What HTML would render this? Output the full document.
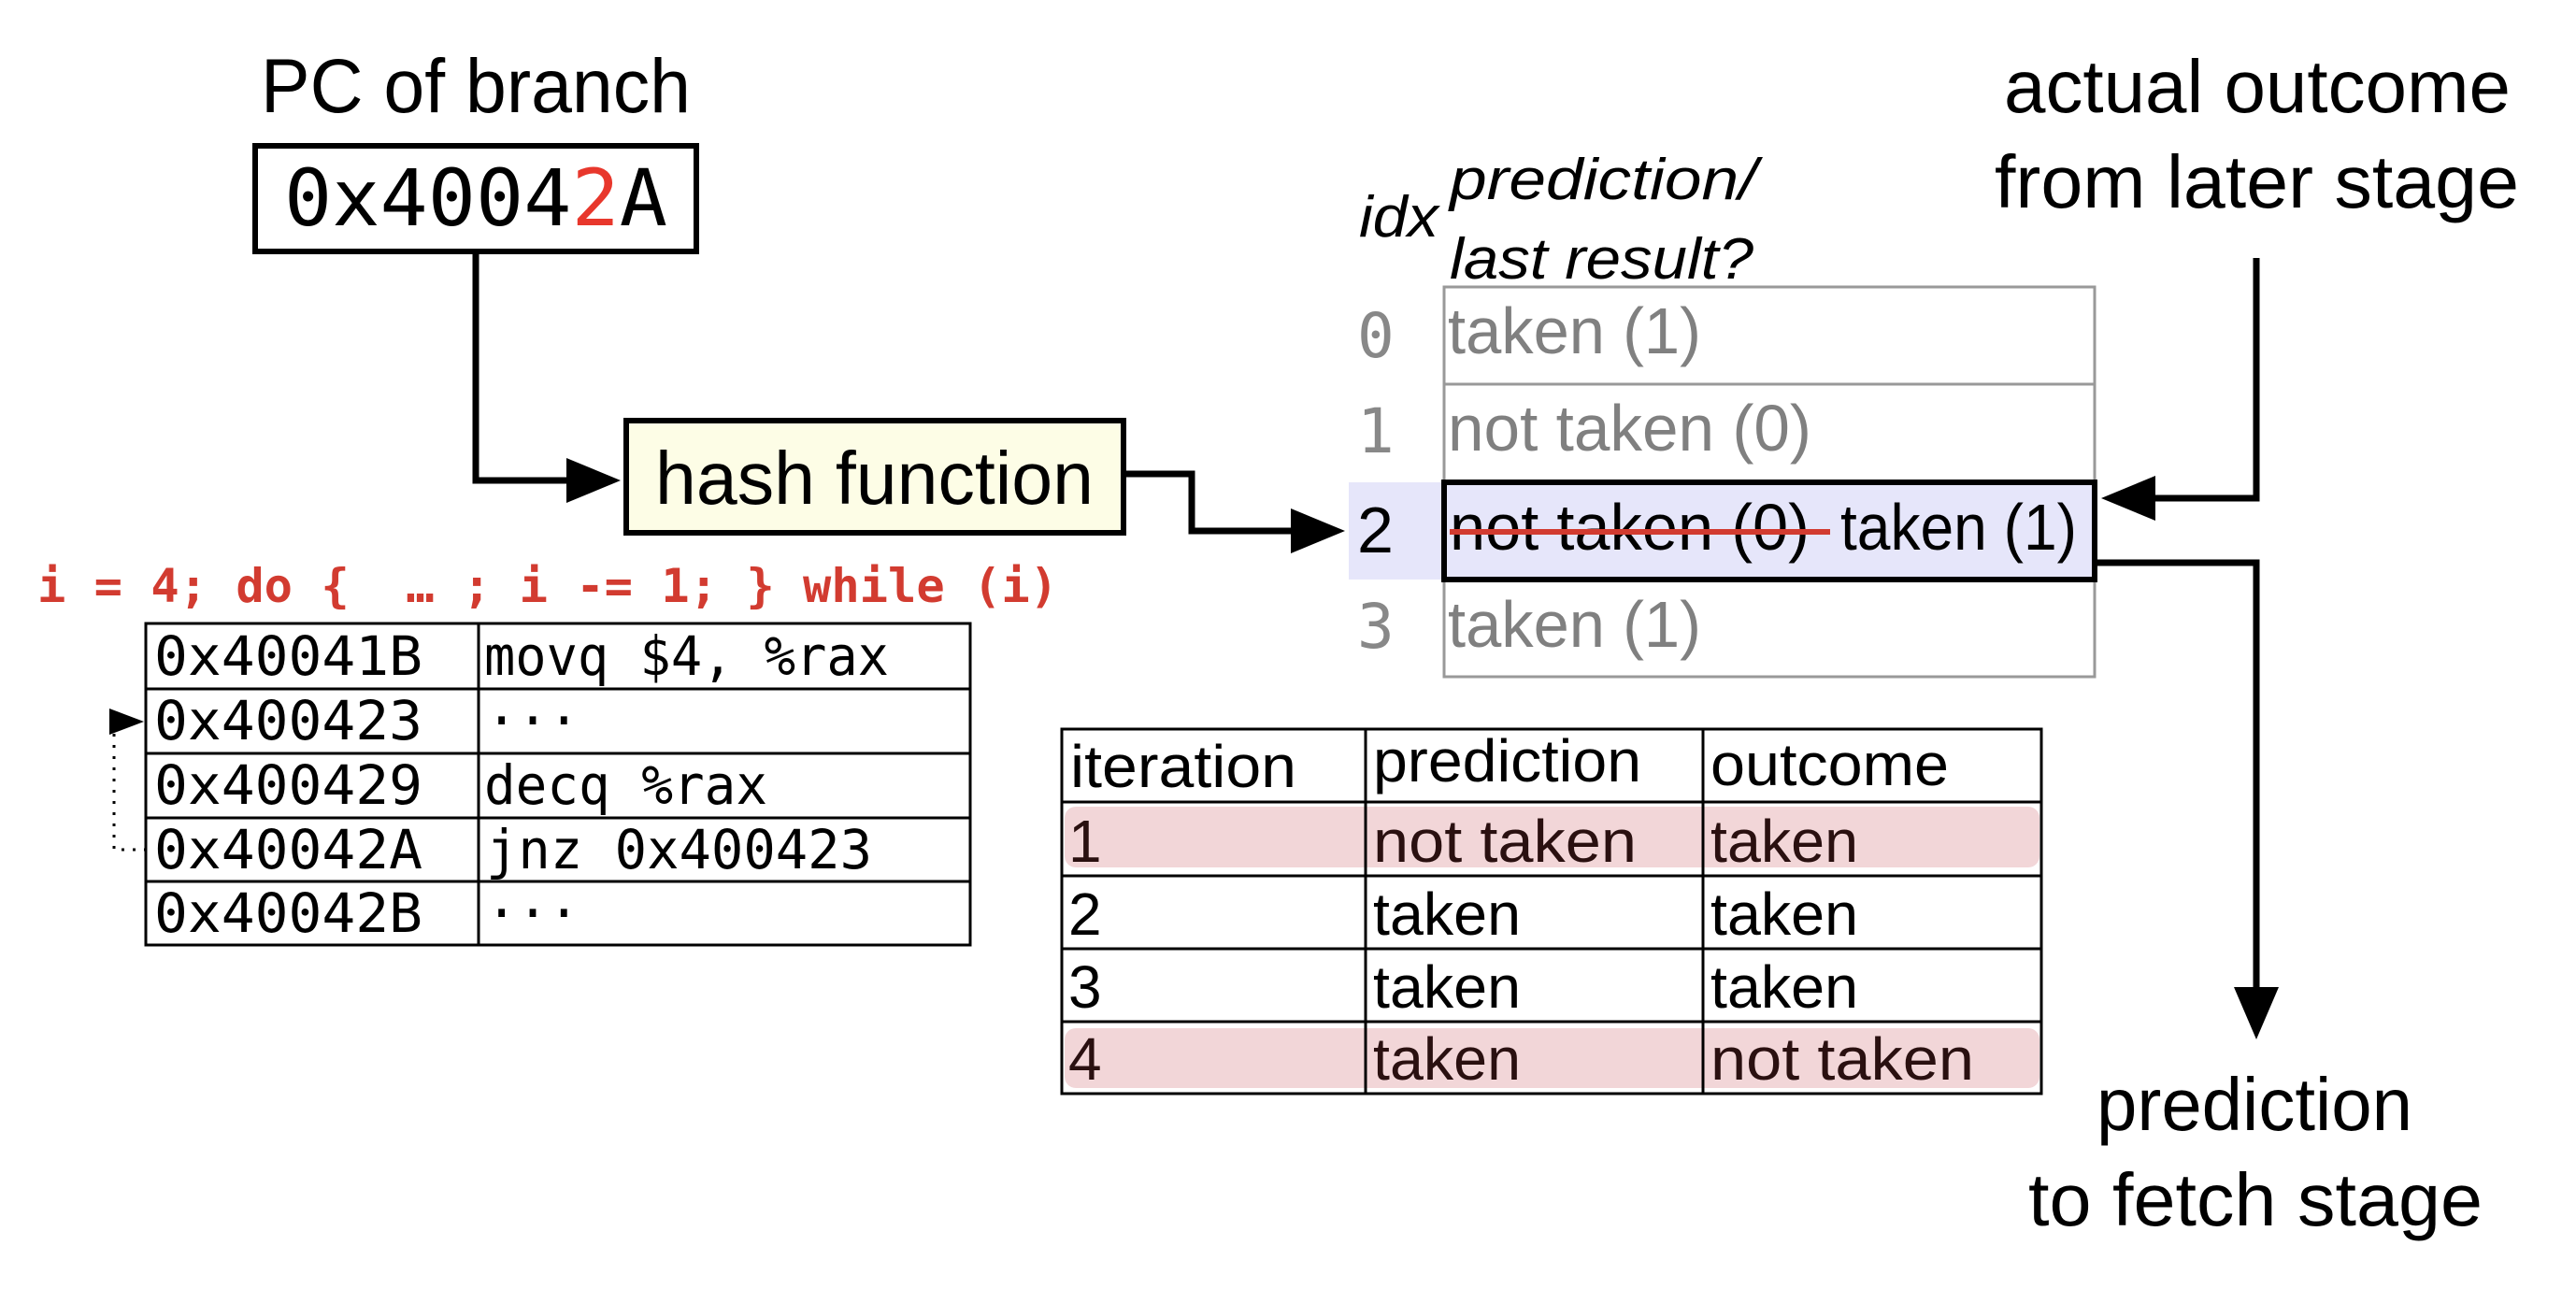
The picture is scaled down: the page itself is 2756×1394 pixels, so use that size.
<!DOCTYPE html>
<html><head><meta charset="utf-8"><style>html,body{margin:0;padding:0;background:#fff}svg{display:block}</style></head>
<body>
<svg width="2756" height="1394" viewBox="0 0 2756 1394" xmlns="http://www.w3.org/2000/svg">
<g font-family="'Liberation Sans', 'DejaVu Sans', sans-serif">
<!-- PC of branch -->
<text x="279" y="120" font-size="82" textLength="460" lengthAdjust="spacingAndGlyphs">PC of branch</text>
<rect x="273" y="156" width="472" height="113" fill="#fff" stroke="#000" stroke-width="6"/>
<text x="304" y="241" font-family="'DejaVu Sans Mono', 'Liberation Mono', monospace" font-size="84" textLength="410" lengthAdjust="spacingAndGlyphs">0x4004<tspan fill="#e8372c">2</tspan>A</text>
<polyline points="509,272 509,514 610,514" fill="none" stroke="#000" stroke-width="7"/>
<polygon points="664,514 606,490 606,538" fill="#000"/>
<rect x="670" y="450" width="532" height="120" fill="#fdfde6" stroke="#000" stroke-width="6"/>
<text x="701" y="539" font-size="80" textLength="469" lengthAdjust="spacingAndGlyphs">hash function</text>
<polyline points="1205,507 1275,507 1275,568 1385,568" fill="none" stroke="#000" stroke-width="7"/>
<polygon points="1439,568 1381,544 1381,592" fill="#000"/>
<text x="40" y="644" font-family="'DejaVu Sans Mono', 'Liberation Mono', monospace" font-weight="bold" font-size="50" fill="#d23b30" xml:space="preserve" textLength="1092" lengthAdjust="spacingAndGlyphs">i = 4; do {  … ; i -= 1; } while (i)</text>
<!-- code table -->
<g stroke="#000" stroke-width="3" fill="none">
<rect x="156" y="667" width="882" height="344"/>
<line x1="512" y1="667" x2="512" y2="1011"/>
<line x1="156" y1="737" x2="1038" y2="737"/>
<line x1="156" y1="806" x2="1038" y2="806"/>
<line x1="156" y1="875" x2="1038" y2="875"/>
<line x1="156" y1="943" x2="1038" y2="943"/>
</g>
<g font-family="'DejaVu Sans Mono', 'Liberation Mono', monospace" font-size="58">
<text x="165" y="722" textLength="287" lengthAdjust="spacingAndGlyphs">0x40041B</text>
<text x="165" y="791" textLength="287" lengthAdjust="spacingAndGlyphs">0x400423</text>
<text x="165" y="860" textLength="287" lengthAdjust="spacingAndGlyphs">0x400429</text>
<text x="165" y="929" textLength="287" lengthAdjust="spacingAndGlyphs">0x40042A</text>
<text x="165" y="997" textLength="287" lengthAdjust="spacingAndGlyphs">0x40042B</text>
<text x="518" y="722" textLength="433" lengthAdjust="spacingAndGlyphs">movq $4, %rax</text>
<text x="520" y="791" textLength="100" lengthAdjust="spacingAndGlyphs">···</text>
<text x="518" y="860" textLength="303" lengthAdjust="spacingAndGlyphs">decq %rax</text>
<text x="520" y="929" textLength="413" lengthAdjust="spacingAndGlyphs">jnz 0x400423</text>
<text x="520" y="997" textLength="100" lengthAdjust="spacingAndGlyphs">···</text>
</g>
<polyline points="122,785 122,909 156,909" fill="none" stroke="#000" stroke-width="3" stroke-dasharray="3,9"/>
<polygon points="154,772 117,758 117,786" fill="#000"/>
<!-- iteration table -->
<rect x="1139" y="863" width="1043" height="65" rx="12" fill="#f2d6d8"/>
<rect x="1139" y="1100" width="1043" height="64" rx="12" fill="#f2d6d8"/>
<g stroke="#000" stroke-width="3" fill="none">
<rect x="1136" y="780" width="1048" height="390"/>
<line x1="1461" y1="780" x2="1461" y2="1170"/>
<line x1="1822" y1="780" x2="1822" y2="1170"/>
<line x1="1136" y1="858" x2="2184" y2="858"/>
<line x1="1136" y1="937" x2="2184" y2="937"/>
<line x1="1136" y1="1015" x2="2184" y2="1015"/>
<line x1="1136" y1="1093" x2="2184" y2="1093"/>
</g>
<g font-size="64">
<text x="1145" y="842" textLength="242" lengthAdjust="spacingAndGlyphs">iteration</text>
<text x="1469" y="836" textLength="287" lengthAdjust="spacingAndGlyphs">prediction</text>
<text x="1830" y="840" textLength="255" lengthAdjust="spacingAndGlyphs">outcome</text>
<g fill="#2a1010">
<text x="1143" y="922">1</text>
<text x="1469" y="922" textLength="282" lengthAdjust="spacingAndGlyphs">not taken</text>
<text x="1830" y="922" textLength="158" lengthAdjust="spacingAndGlyphs">taken</text>
<text x="1143" y="1155">4</text>
<text x="1469" y="1155" textLength="158" lengthAdjust="spacingAndGlyphs">taken</text>
<text x="1830" y="1155" textLength="282" lengthAdjust="spacingAndGlyphs">not taken</text>
</g>
<text x="1143" y="1000">2</text>
<text x="1469" y="1000" textLength="158" lengthAdjust="spacingAndGlyphs">taken</text>
<text x="1830" y="1000" textLength="158" lengthAdjust="spacingAndGlyphs">taken</text>
<text x="1143" y="1078">3</text>
<text x="1469" y="1078" textLength="158" lengthAdjust="spacingAndGlyphs">taken</text>
<text x="1830" y="1078" textLength="158" lengthAdjust="spacingAndGlyphs">taken</text>
</g>
<!-- predictor table -->
<text x="1454" y="253" font-size="62" font-style="italic" textLength="85" lengthAdjust="spacingAndGlyphs">idx</text>
<text x="1551" y="213" font-size="62" font-style="italic" textLength="329" lengthAdjust="spacingAndGlyphs">prediction/</text>
<text x="1551" y="298" font-size="62" font-style="italic" textLength="325" lengthAdjust="spacingAndGlyphs">last result?</text>
<rect x="1443" y="516" width="100" height="104" fill="#e6e6fa"/>
<g stroke="#999" stroke-width="3" fill="none">
<rect x="1545" y="307" width="696" height="417"/>
<line x1="1545" y1="411" x2="2241" y2="411"/>
</g>
<rect x="1545" y="516" width="696" height="104" fill="#e6e6fa" stroke="#000" stroke-width="6"/>
<g font-family="'DejaVu Sans Mono', 'Liberation Mono', monospace" font-size="66" fill="#888">
<text x="1452" y="382">0</text>
<text x="1452" y="484">1</text>
<text x="1452" y="693">3</text>
</g>
<text x="1452" y="591" font-size="70">2</text>
<g font-size="70" fill="#808080">
<text x="1549" y="378" textLength="271" lengthAdjust="spacingAndGlyphs">taken (1)</text>
<text x="1549" y="482" textLength="389" lengthAdjust="spacingAndGlyphs">not taken (0)</text>
<text x="1549" y="692" textLength="271" lengthAdjust="spacingAndGlyphs">taken (1)</text>
</g>
<text x="1551" y="588" font-size="70" textLength="385" lengthAdjust="spacingAndGlyphs">not taken (0)</text>
<line x1="1551" y1="569" x2="1958" y2="569" stroke="#d23b30" stroke-width="6"/>
<text x="1969" y="588" font-size="70" textLength="253" lengthAdjust="spacingAndGlyphs">taken (1)</text>
<!-- right labels -->
<text x="2144" y="120" font-size="80" textLength="542" lengthAdjust="spacingAndGlyphs">actual outcome</text>
<text x="2134" y="222" font-size="80" textLength="561" lengthAdjust="spacingAndGlyphs">from later stage</text>
<polyline points="2414,276 2414,533 2302,533" fill="none" stroke="#000" stroke-width="7"/>
<polygon points="2248,533 2306,509 2306,557" fill="#000"/>
<polyline points="2244,602 2414,602 2414,1060" fill="none" stroke="#000" stroke-width="7"/>
<polygon points="2414,1112 2390,1056 2438,1056" fill="#000"/>
<text x="2243" y="1209" font-size="80" textLength="338" lengthAdjust="spacingAndGlyphs">prediction</text>
<text x="2170" y="1311" font-size="80" textLength="486" lengthAdjust="spacingAndGlyphs">to fetch stage</text>
</g>
</svg>
</body></html>
